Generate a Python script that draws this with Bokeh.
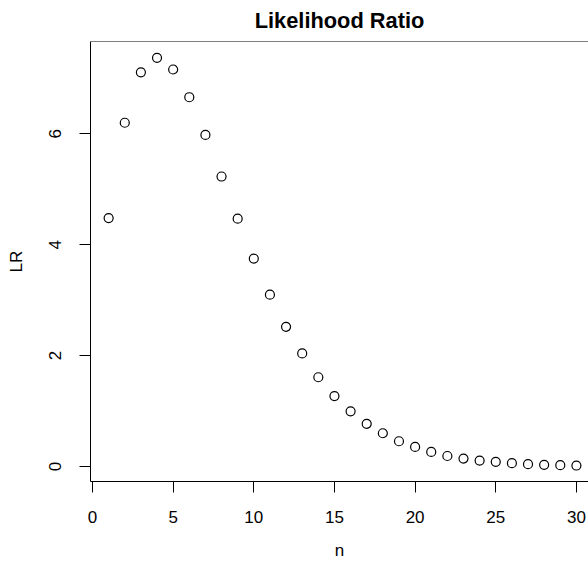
from bokeh.plotting import figure
from bokeh.models import FixedTicker, Range1d, Span
from bokeh.embed import file_html
from bokeh.resources import INLINE

n = list(range(1, 31))
lr = [4.48, 6.20, 7.11, 7.37, 7.16, 6.66, 5.98, 5.23, 4.47, 3.75,
      3.10, 2.52, 2.04, 1.61, 1.27, 0.995, 0.77, 0.60, 0.456, 0.354,
      0.264, 0.19, 0.144, 0.108, 0.084, 0.06, 0.043, 0.03, 0.025, 0.018]
x_ticks = [0, 5, 10, 15, 20, 25, 30]
y_ticks = [0, 2, 4, 6]
title_text = "Likelihood Ratio"

FONT = "Liberation Sans"
Y_END = 7.665

p = figure(width=588, height=562, output_backend="svg", toolbar_location=None,
           min_border_left=90, min_border_right=0, min_border_top=41,
           min_border_bottom=79, title=title_text)
p.x_range = Range1d(-0.124, 30.75)
p.y_range = Range1d(-0.27, Y_END)

p.title.text_font = FONT
p.title.text_font_size = "21.8px"
p.title.text_font_style = "bold"
p.title.align = "center"
p.title.vertical_align = "top"
p.title.offset = 6
p.title.standoff = 14
p.title.text_color = "black"

p.scatter(n, lr, marker="circle", size=9, fill_color=None,
          line_color="black", line_width=1.2)

p.xgrid.visible = False
p.ygrid.visible = False
p.outline_line_color = None
p.add_layout(Span(location=Y_END, dimension="width", line_color="black", line_width=1))

for ax in (p.xaxis[0], p.yaxis[0]):
    ax.axis_line_color = "black"
    ax.major_tick_line_color = "black"
    ax.minor_tick_line_color = None
    ax.major_tick_out = 11
    ax.major_tick_in = 0
    ax.major_label_text_font = FONT
    ax.major_label_text_font_size = "17px"
    ax.major_label_text_color = "black"
    ax.axis_label_text_font = FONT
    ax.axis_label_text_font_size = "17px"
    ax.axis_label_text_font_style = "normal"
    ax.axis_label_text_color = "black"

p.xaxis.ticker = FixedTicker(ticks=x_ticks)
p.yaxis.ticker = FixedTicker(ticks=y_ticks)
p.xaxis.axis_label = "n"
p.yaxis.axis_label = "LR"
p.xaxis.major_label_standoff = 18
p.xaxis.axis_label_standoff = 15
p.yaxis.major_label_orientation = "vertical"
p.yaxis.major_label_standoff = 18
p.yaxis.axis_label_standoff = 21

open("out.html", "w").write(file_html(p, INLINE))
